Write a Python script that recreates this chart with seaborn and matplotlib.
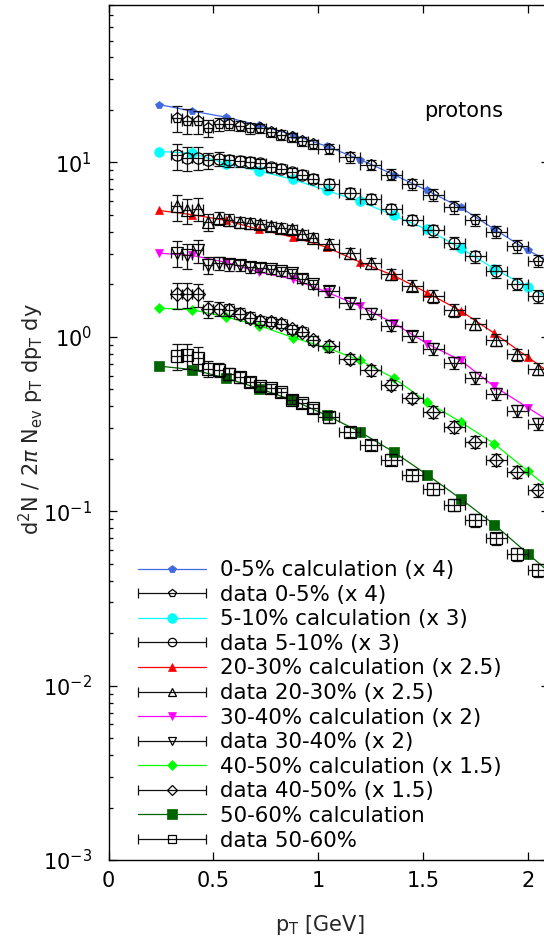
import numpy as np
import matplotlib
matplotlib.use("Agg")
import matplotlib.pyplot as plt
from matplotlib.ticker import LogLocator, NullLocator, NullFormatter, FixedLocator, FixedFormatter
from matplotlib.legend_handler import HandlerErrorbar
from matplotlib.container import ErrorbarContainer
import seaborn as sns

# ---- transverse-momentum grids (GeV) ----
pt_calc = [0.24, 0.40, 0.56, 0.72, 0.88, 1.04, 1.20, 1.36, 1.52, 1.68, 1.84, 2.00, 2.16]
pt_data = [0.325, 0.375, 0.425, 0.475, 0.525, 0.575, 0.625, 0.675, 0.725, 0.775,
           0.825, 0.875, 0.925, 0.975,
           1.05, 1.15, 1.25, 1.35, 1.45, 1.55, 1.65, 1.75, 1.85, 1.95, 2.05]
pt_bin_half = [0.025] * 14 + [0.05] * 11
rel_err = [0.17, 0.16, 0.15, 0.11, 0.09, 0.08, 0.07, 0.07, 0.06, 0.06, 0.06, 0.06,
           0.06, 0.06, 0.07, 0.07, 0.07, 0.07, 0.07, 0.08, 0.08, 0.08, 0.08, 0.08, 0.08]

# ---- hydro calculations (already scaled) ----
calc_0_5 = [21.5, 19.7, 18.2, 16.3, 14.4, 12.4, 10.4, 8.53, 6.91, 5.52, 4.15, 3.13, 2.52]
calc_5_10 = [11.56, 11.3, 9.83, 8.92, 7.99, 6.91, 5.98, 4.97, 4.13, 3.23, 2.46, 1.93, 1.52]
calc_20_30 = [5.31, 5.02, 4.65, 4.13, 3.73, 3.27, 2.68, 2.25, 1.79, 1.41, 1.05, 0.766, 0.558]
calc_30_40 = [3.02, 2.93, 2.68, 2.35, 2.14, 1.81, 1.50, 1.20, 0.914, 0.733, 0.520, 0.393, 0.297]
calc_40_50 = [1.46, 1.43, 1.30, 1.16, 0.990, 0.867, 0.733, 0.581, 0.423, 0.325, 0.244, 0.170, 0.119]
calc_50_60 = [0.680, 0.649, 0.581, 0.505, 0.433, 0.355, 0.285, 0.219, 0.162, 0.118, 0.0839, 0.0572, 0.0390]

# ---- measured spectra (already scaled) ----
data_0_5 = [17.9, 17.4, 17.2, 15.7, 16.6, 16.7, 16.2, 15.7, 15.7, 14.9, 14.4, 14.0, 13.2, 12.7,
            12.0, 10.7, 9.70, 8.53, 7.48, 6.53, 5.54, 4.69, 3.99, 3.31, 2.74]
data_5_10 = [10.97, 10.64, 10.64, 10.27, 10.50, 10.27, 10.17, 10.04, 9.91, 9.40, 9.20, 8.80, 8.53, 8.07,
             7.48, 6.67, 6.19, 5.43, 4.69, 4.08, 3.45, 2.89, 2.38, 2.02, 1.71]
data_20_30 = [5.60, 5.31, 5.43, 4.55, 4.80, 4.69, 4.55, 4.49, 4.41, 4.31, 4.22, 4.13, 3.87, 3.70,
              3.42, 3.02, 2.64, 2.28, 1.97, 1.71, 1.42, 1.19, 0.964, 0.794, 0.657]
data_30_40 = [3.02, 2.93, 3.13, 2.57, 2.65, 2.60, 2.57, 2.51, 2.49, 2.44, 2.38, 2.32, 2.16, 2.00,
              1.83, 1.56, 1.36, 1.16, 1.01, 0.856, 0.708, 0.581, 0.473, 0.376, 0.318]
data_40_50 = [1.75, 1.75, 1.75, 1.45, 1.45, 1.43, 1.36, 1.29, 1.24, 1.22, 1.19, 1.11, 1.07, 0.955,
              0.882, 0.750, 0.643, 0.532, 0.448, 0.371, 0.304, 0.249, 0.198, 0.168, 0.132]
data_50_60 = [0.773, 0.783, 0.756, 0.657, 0.649, 0.615, 0.588, 0.551, 0.520, 0.509, 0.483, 0.437, 0.418, 0.391,
              0.347, 0.285, 0.241, 0.198, 0.161, 0.135, 0.109, 0.0888, 0.0698, 0.0567, 0.0459]

calc_labels = ["0-5% calculation (x 4)", "5-10% calculation (x 3)", "20-30% calculation (x 2.5)",
               "30-40% calculation (x 2)", "40-50% calculation (x 1.5)", "50-60% calculation"]
data_labels = ["data 0-5% (x 4)", "data 5-10% (x 3)", "data 20-30% (x 2.5)",
               "data 30-40% (x 2)", "data 40-50% (x 1.5)", "data 50-60%"]

x_ticks = [0, 0.5, 1, 1.5, 2]
x_tick_labels = ["0", "0.5", "1", "1.5", "2"]

# ---- styling ----
sns.set_theme(style="ticks")
plt.rcParams.update({
    "font.family": ["DejaVu Sans"],
    "mathtext.fontset": "dejavusans",
    "axes.linewidth": 1.0,
    "axes.edgecolor": "black",
    "text.color": "black",
    "xtick.color": "black",
    "ytick.color": "black",
})

calc_sets = [calc_0_5, calc_5_10, calc_20_30, calc_30_40, calc_40_50, calc_50_60]
data_sets = [data_0_5, data_5_10, data_20_30, data_30_40, data_40_50, data_50_60]
calc_colors = ["#4169e1", "#00ffff", "#ff0000", "#ff00ff", "#00ff00", "#006400"]
calc_markers = ["p", "o", "^", "v", "D", "s"]
calc_msize = [6.0, 7.0, 6.0, 6.0, 5.0, 7.0]
data_markers = ["p", "o", "^", "v", "D", "s"]
data_msize = [8.0, 8.0, 8.0, 8.0, 7.0, 8.0]

fig = plt.figure(figsize=(5.44, 9.38), dpi=100)
ax = fig.add_axes([108.5 / 544, 78 / 938, 440.2 / 544, 855 / 938])

pt_data_arr = np.array(pt_data)
xerr_arr = np.array(pt_bin_half)
rel_arr = np.array(rel_err)

handles, labels = [], []
for i in range(6):
    sns.lineplot(x=pt_calc, y=calc_sets[i], ax=ax, color=calc_colors[i],
                 marker=calc_markers[i], markersize=calc_msize[i],
                 markeredgecolor=calc_colors[i], markeredgewidth=0.5,
                 linewidth=0.9, legend=False, zorder=2)
    calc_line = ax.lines[-1]
    handles.append(calc_line)
    labels.append(calc_labels[i])

    vals = np.array(data_sets[i])
    ax.errorbar(pt_data_arr, vals, xerr=xerr_arr, yerr=vals * rel_arr,
                fmt=data_markers[i], mfc="none", mec="black", mew=0.9,
                ms=data_msize[i], ecolor="#111111", elinewidth=0.9,
                capsize=3.5, capthick=0.9, zorder=3)
    # legend proxy: horizontal bar with end caps and open marker
    proxy = ax.errorbar([np.nan], [np.nan], xerr=[0.1], fmt=data_markers[i],
                        mfc="none", mec="black", mew=0.9, ms=data_msize[i] - 2.0,
                        ecolor="#111111", elinewidth=0.9, capsize=3.5, capthick=0.9)
    handles.append(proxy)
    labels.append(data_labels[i])

ax.set_yscale("log")
ax.set_xlim(0, 2.1)
ax.set_ylim(1e-3, 80)
ax.xaxis.set_major_locator(FixedLocator(x_ticks))
ax.xaxis.set_major_formatter(FixedFormatter(x_tick_labels))
ax.xaxis.set_minor_locator(NullLocator())
ax.yaxis.set_major_locator(LogLocator(base=10, numticks=10))
ax.yaxis.set_minor_locator(LogLocator(base=10, subs=np.arange(2, 10), numticks=20))
ax.yaxis.set_minor_formatter(NullFormatter())

ax.tick_params(which="both", direction="in", top=True, right=True, width=0.9)
ax.tick_params(which="major", length=6.0, labelsize=15)
ax.tick_params(which="minor", length=3.0)
ax.tick_params(axis="x", which="major", pad=8)
ax.tick_params(axis="y", which="major", pad=12)
for sp in ax.spines.values():
    sp.set_visible(True)
    sp.set_linewidth(1.0)

ax.set_xlabel(r"p$_{\rm T}$ [GeV]", fontsize=15)
ax.xaxis.set_label_coords(0.48, -0.062)
ax.xaxis.label.set_va("top")
ax.set_ylabel(r"d$^2$N / 2$\pi$ N$_{\rm ev}$ p$_{\rm T}$ dp$_{\rm T}$ dy", fontsize=15)
ax.yaxis.set_label_coords(-0.142, 0.516)

fig.text(463.5 / 544, 1 - 117 / 938, "protons", ha="center", va="baseline", fontsize=15)

ax.legend(handles, labels, loc="upper left",
          bbox_to_anchor=(137.7 / 544, 1 - 560 / 938), bbox_transform=fig.transFigure,
          frameon=False, borderpad=0, borderaxespad=0,
          handlelength=3.2, handletextpad=0.66, labelspacing=0.215, fontsize=15.4,
          numpoints=1,
          handler_map={ErrorbarContainer: HandlerErrorbar(xerr_size=1.6)})

fig.savefig("out.png", dpi=100)
